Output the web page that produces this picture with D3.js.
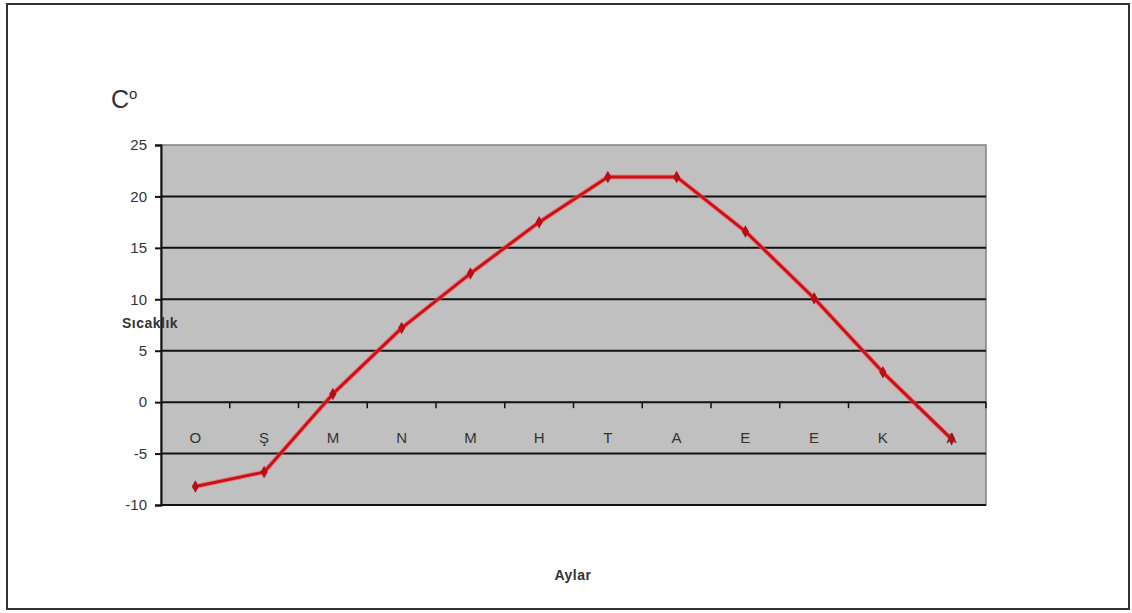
<!DOCTYPE html>
<html>
<head>
<meta charset="utf-8">
<script src="https://cdn.jsdelivr.net/npm/d3@7"></script>
<style>
  html, body { margin: 0; padding: 0; background: #fff; }
  svg { display: block; }
  text { font-family: "Liberation Sans", Arial, sans-serif; fill: #333; }
</style>
</head>
<body>
<svg id="chart" width="1132" height="613"></svg>
<script>
// Monthly mean temperature (°C), January through December
const months = ["O", "Ş", "M", "N", "M", "H", "T", "A", "E", "E", "K", "A"];
const temperatures = [-8.2, -6.8, 0.8, 7.2, 12.5, 17.5, 21.9, 21.9, 16.6, 10.1, 2.9, -3.6];
const yTicks = [25, 20, 15, 10, 5, 0, -5, -10];

const svg = d3.select("#chart");

// outer frame
svg.append("rect")
  .attr("x", 7).attr("y", 4).attr("width", 1122).attr("height", 605)
  .attr("fill", "#fff").attr("stroke", "#333").attr("stroke-width", 2);

const plot = { left: 161, top: 145, right: 986, bottom: 505 };

const x = d3.scaleBand()
  .domain(d3.range(months.length))
  .range([plot.left, plot.right])
  .paddingInner(0).paddingOuter(0);

const y = d3.scaleLinear()
  .domain([-10, 25])
  .range([plot.bottom, plot.top]);

// plot background
svg.append("rect")
  .attr("x", plot.left).attr("y", plot.top)
  .attr("width", plot.right - plot.left).attr("height", plot.bottom - plot.top)
  .attr("fill", "#c0c0c0").attr("stroke", "#808080").attr("stroke-width", 1.5);

// horizontal grid lines
svg.append("g")
  .selectAll("line")
  .data(yTicks.filter(t => t !== 25 && t !== 0 && t !== -10))
  .join("line")
  .attr("x1", plot.left).attr("x2", plot.right)
  .attr("y1", d => y(d)).attr("y2", d => y(d))
  .attr("stroke", "#111").attr("stroke-width", 2);

// bottom edge line
svg.append("line")
  .attr("x1", plot.left).attr("x2", plot.right)
  .attr("y1", y(-10)).attr("y2", y(-10))
  .attr("stroke", "#111").attr("stroke-width", 2);

// y axis
const yAxis = d3.axisLeft(y)
  .tickValues(yTicks)
  .tickSize(6)
  .tickPadding(8)
  .tickFormat(d => String(d));
const gy = svg.append("g")
  .attr("transform", `translate(${plot.left},0)`)
  .call(yAxis);
gy.select(".domain").attr("stroke", "#111").attr("stroke-width", 2);
gy.selectAll(".tick line").attr("stroke", "#111").attr("stroke-width", 2);
gy.selectAll(".tick text")
  .attr("font-size", 15)
  .attr("font-family", "'Liberation Sans', Arial, sans-serif")
  .attr("fill", "#333");

// category axis crossing at zero
const xAxisY = y(0);
svg.append("line")
  .attr("x1", plot.left).attr("x2", plot.right)
  .attr("y1", xAxisY).attr("y2", xAxisY)
  .attr("stroke", "#111").attr("stroke-width", 2);

// tick marks between categories
const boundaries = d3.range(1, months.length + 1).map(i => plot.left + i * x.bandwidth());
svg.append("g")
  .selectAll("line")
  .data(boundaries)
  .join("line")
  .attr("x1", d => d).attr("x2", d => d)
  .attr("y1", xAxisY).attr("y2", xAxisY + 6)
  .attr("stroke", "#111").attr("stroke-width", 1.5);

// category labels
svg.append("g")
  .selectAll("text")
  .data(months)
  .join("text")
  .attr("x", (d, i) => x(i) + x.bandwidth() / 2)
  .attr("y", xAxisY + 41)
  .attr("text-anchor", "middle")
  .attr("font-size", 15)
  .text(d => d);

// temperature line
const line = d3.line()
  .x((d, i) => x(i) + x.bandwidth() / 2)
  .y(d => y(d));

svg.append("path")
  .datum(temperatures)
  .attr("d", line)
  .attr("fill", "none")
  .attr("stroke", "#ff5a5a")
  .attr("stroke-width", 5)
  .attr("stroke-linejoin", "round")
  .attr("opacity", 0.55);

svg.append("path")
  .datum(temperatures)
  .attr("d", line)
  .attr("fill", "none")
  .attr("stroke", "#cc1018")
  .attr("stroke-width", 3)
  .attr("stroke-linejoin", "round");

// markers
svg.append("g")
  .selectAll("path")
  .data(temperatures)
  .join("path")
  .attr("transform", (d, i) => `translate(${x(i) + x.bandwidth() / 2},${y(d)})`)
  .attr("d", d3.symbol().type(d3.symbolDiamond).size(45))
  .attr("fill", "#b80c16");

// unit label
const unit = svg.append("text")
  .attr("x", 111).attr("y", 108)
  .attr("font-size", 25)
  .attr("font-family", "'DejaVu Sans', sans-serif")
  .attr("font-weight", 200)
  .attr("fill", "#444");
unit.append("tspan").text("C");
unit.append("tspan").attr("font-size", 15).attr("dy", -9).text("o");

// axis titles
svg.append("text")
  .attr("x", 150).attr("y", 328)
  .attr("text-anchor", "middle")
  .attr("font-size", 14)
  .attr("font-weight", "bold")
  .attr("letter-spacing", 0.5)
  .text("Sıcaklık");

svg.append("text")
  .attr("x", 573).attr("y", 580)
  .attr("text-anchor", "middle")
  .attr("font-size", 14)
  .attr("font-weight", "bold")
  .attr("letter-spacing", 0.5)
  .text("Aylar");
</script>
</body>
</html>
